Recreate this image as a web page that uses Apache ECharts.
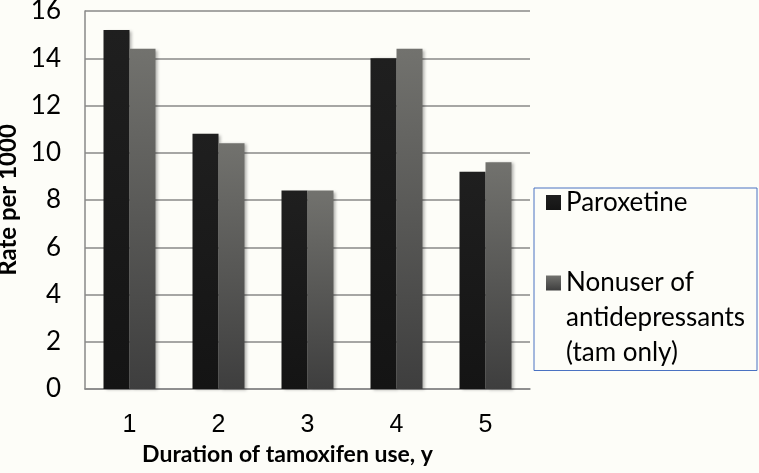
<!DOCTYPE html>
<html>
<head>
<meta charset="utf-8">
<script src="https://cdn.jsdelivr.net/npm/echarts@6/dist/echarts.min.js"></script>
<style>
  html, body { margin: 0; padding: 0; background: #fdfdf8; }
  #chart { width: 759px; height: 473px; }
</style>
</head>
<body>
<div id="chart"></div>
<script>
const years = ['1', '2', '3', '4', '5']
const paroxetine = [15.2, 10.8, 8.4, 14.0, 9.2]
const nonuser = [14.4, 10.4, 8.4, 14.4, 9.6]
const seriesNames = ['Paroxetine', 'Nonuser of\nantidepressants\n(tam only)']

const chart = echarts.init(document.getElementById('chart'))

const darkFill = new echarts.graphic.LinearGradient(0, 0, 0, 1, [
  { offset: 0, color: '#1f1f1f' },
  { offset: 1, color: '#141414' }
])
const grayFill = new echarts.graphic.LinearGradient(0, 0, 0, 1, [
  { offset: 0, color: '#72726e' },
  { offset: 1, color: '#3e3e3e' }
])
const barShadow = {
  shadowColor: 'rgba(0,0,0,0.3)',
  shadowBlur: 3,
  shadowOffsetX: 2,
  shadowOffsetY: 1
}

chart.setOption({
  animation: false,
  backgroundColor: '#fdfdf8',
  grid: { left: 85, right: 229, top: 11, bottom: 84, containLabel: false, outerBoundsMode: 'none' },
  legend: {
    orient: 'vertical',
    left: 534,
    top: 188,
    padding: [1.5, 6, 0, 12],
    borderColor: '#4a72c2',
    borderWidth: 1,
    itemWidth: 15,
    itemHeight: 15,
    itemGap: -20,
    icon: 'rect',
    selectedMode: false,
    // multi-line entry: pad with blank lines so the first line sits beside the icon
    formatter: name => (name === seriesNames[1] ? '\n\n' + name : name),
    textStyle: { fontFamily: 'Lato', fontSize: 26, color: '#000', width: 185 },
    data: [
      { name: seriesNames[0], textStyle: { lineHeight: 20 } },
      { name: seriesNames[1], textStyle: { lineHeight: 35 } }
    ]
  },
  xAxis: {
    type: 'category',
    data: years,
    name: 'Duration of tamoxifen use, y',
    nameLocation: 'middle',
    nameGap: 52,
    nameTextStyle: { fontFamily: 'Lato', fontWeight: 'bold', fontSize: 23, color: '#000', padding: [0, 40, 0, 0] },
    axisLine: { lineStyle: { color: '#888', width: 1.5 } },
    axisTick: { show: false },
    axisLabel: { fontFamily: 'Liberation Sans', fontSize: 25, color: '#000', margin: 24 }
  },
  yAxis: {
    type: 'value',
    min: 0,
    max: 16,
    interval: 2,
    name: 'Rate per 1000',
    nameLocation: 'middle',
    nameGap: 59,
    nameTextStyle: { fontFamily: 'Lato', fontWeight: 'bold', fontSize: 24, color: '#000' },
    axisLine: { show: true, lineStyle: { color: '#888', width: 1.5 } },
    axisTick: { show: false },
    axisLabel: { fontFamily: 'Lato', fontSize: 26, color: '#000', margin: 24 },
    splitLine: { lineStyle: { color: '#888', width: 1.5 } }
  },
  series: [
    {
      name: seriesNames[0],
      type: 'bar',
      data: paroxetine,
      barWidth: 26,
      barGap: '0%',
      itemStyle: Object.assign({ color: darkFill }, barShadow)
    },
    {
      name: seriesNames[1],
      type: 'bar',
      data: nonuser,
      barWidth: 26,
      barGap: '0%',
      itemStyle: Object.assign({ color: grayFill }, barShadow)
    }
  ]
})
</script>
</body>
</html>
